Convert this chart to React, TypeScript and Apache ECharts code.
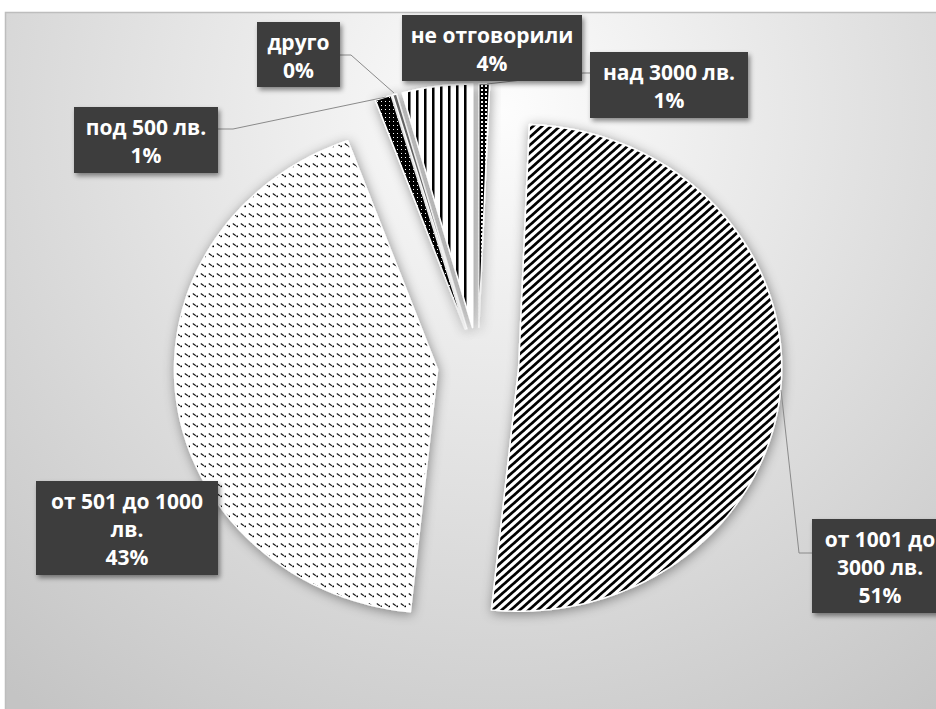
import React, { useEffect, useRef } from 'react';
import * as echarts from 'echarts';

// ---- data ----
const categories = ['над 3000 лв.', 'от 1001 до 3000 лв.', 'от 501 до 1000 лв.', 'под 500 лв.', 'друго', 'не отговорили'];
const shares = [0.65, 51.0, 42.8, 1.0, 0.25, 4.3];

// ---- layout ----
const CX = 478;
const CY = 365;
const RX = 263;
const RY = 243.5;
const EXPLODE = 0.155;

type Lay = { box: number[]; wrap: number; leader: number[][] | null };
const labelLayout: Lay[] = [
  { box: [590, 52, 158, 66], wrap: 20, leader: [[590, 73], [583, 73], [487, 84]] },
  { box: [812, 519, 136, 94], wrap: 10, leader: [[781, 390], [799, 553], [812, 553]] },
  { box: [36, 481, 182, 94], wrap: 14, leader: null },
  { box: [74, 107, 144, 66], wrap: 20, leader: [[218, 129], [233, 129], [386, 97]] },
  { box: [257, 22, 83, 65], wrap: 20, leader: [[340, 55], [351, 55], [394, 93]] },
  { box: [402, 15, 180, 66], wrap: 20, leader: null },
];

function wrapText(s: string, max: number): string {
  const words = s.split(' ');
  const lines: string[] = [];
  let cur = '';
  for (const w of words) {
    const cand = cur ? cur + ' ' + w : w;
    if (cand.length > max && cur) {
      lines.push(cur);
      cur = w;
    } else cur = cand;
  }
  if (cur) lines.push(cur);
  return lines.join('\n');
}

function tile(w: number, h: number, draw: (c: CanvasRenderingContext2D) => void) {
  const cv = document.createElement('canvas');
  cv.width = w;
  cv.height = h;
  const c = cv.getContext('2d') as CanvasRenderingContext2D;
  draw(c);
  return { image: cv.toDataURL(), repeat: 'repeat', imageWidth: w, imageHeight: h };
}

function makeFills() {
  const checker = tile(4, 4, (c) => {
    c.fillStyle = '#000';
    c.fillRect(0, 0, 4, 4);
    c.fillStyle = '#fff';
    c.fillRect(1, 1, 2, 2);
  });
  const DW = 9;
  const DH = 8;
  const diag = tile(DW, DH, (c) => {
    c.fillStyle = '#fff';
    c.fillRect(0, 0, DW, DH);
    c.strokeStyle = '#000';
    c.lineWidth = 2.8;
    for (let n = -1; n <= 3; n++) {
      c.beginPath();
      c.moveTo(DW * (n + 1), -DH);
      c.lineTo(DW * (n - 2), 2 * DH);
      c.stroke();
    }
  });
  const dashed = tile(8, 10, (c) => {
    c.fillStyle = '#fff';
    c.fillRect(0, 0, 8, 10);
    c.strokeStyle = '#1a1a1a';
    c.lineWidth = 1.2;
    c.beginPath();
    c.moveTo(0.8, 3.6);
    c.lineTo(3.8, 5.8);
    c.stroke();
    c.fillStyle = '#000';
    c.fillRect(4.4, 5.6, 1.6, 1.6);
  });
  const dotted = tile(4, 4, (c) => {
    c.fillStyle = '#000';
    c.fillRect(0, 0, 4, 4);
    c.fillStyle = '#fff';
    c.fillRect(1, 1, 1, 1);
  });
  const other = '#666';
  const vert = tile(8, 8, (c) => {
    c.fillStyle = '#fff';
    c.fillRect(0, 0, 8, 8);
    c.fillStyle = '#000';
    c.fillRect(0, 0, 2, 8);
    c.fillStyle = '#777';
    c.fillRect(2, 0, 1, 8);
  });
  return [checker, diag, dashed, dotted, other, vert];
}

export default function App() {
  const ref = useRef<HTMLDivElement>(null);
  useEffect(() => {
    if (!ref.current) return;
    const chart = echarts.init(ref.current, null, { renderer: 'svg' });
    const fills = makeFills();
    const total = shares.reduce((a, b) => a + b, 0);
    let acc = 0;
    const seriesData = shares.map((v) => {
      const s = acc / total;
      acc += v;
      return [v, s, acc / total];
    });

    const elements: any[] = [
      {
        type: 'rect',
        z: -10,
        silent: true,
        shape: { x: 5.5, y: 12.5, width: 940, height: 710 },
        style: {
          fill: {
            type: 'radial', x: 500, y: 110, r: 760, global: true,
            colorStops: [
              { offset: 0, color: '#fdfdfd' },
              { offset: 1, color: '#c4c4c4' },
            ],
          },
          stroke: '#bdbdbd',
          lineWidth: 1.5,
        },
      },
    ];
    categories.forEach((name, i) => {
      const L = labelLayout[i];
      const pct = Math.round((shares[i] / total) * 100);
      if (L.leader) {
        elements.push({
          type: 'polyline', z: 90, silent: true,
          shape: { points: L.leader },
          style: { stroke: '#8a8a8a', lineWidth: 1, fill: null },
        });
      }
      const [bx, by, bw, bh] = L.box;
      elements.push({
        type: 'rect', z: 100, silent: true,
        shape: { x: bx, y: by, width: bw, height: bh },
        style: {
          fill: '#3e3e3e',
          shadowBlur: 5, shadowColor: 'rgba(0,0,0,0.45)', shadowOffsetX: 2, shadowOffsetY: 3,
        },
      });
      elements.push({
        type: 'text', z: 101, silent: true,
        x: bx + bw / 2, y: by + bh / 2 + 1,
        style: {
          text: wrapText(name, L.wrap) + '\n' + pct + '%',
          fill: '#ffffff',
          font: 'bold 21px "Open Sans"',
          align: 'center', verticalAlign: 'middle',
          textAlign: 'center', textVerticalAlign: 'middle',
          lineHeight: 28,
        },
      });
    });

    chart.setOption({
      animation: false,
      graphic: { elements },
      series: [
        {
          type: 'custom',
          coordinateSystem: 'none',
          data: seriesData,
          renderItem: (params: any, api: any) => {
            const s = api.value(1) as number;
            const e = api.value(2) as number;
            const a0 = s * 2 * Math.PI;
            const a1 = e * 2 * Math.PI;
            const mid = (a0 + a1) / 2;
            const ox = CX + EXPLODE * RX * Math.sin(mid);
            const oy = CY - EXPLODE * RY * Math.cos(mid);
            const n = Math.max(2, Math.ceil((a1 - a0) / (Math.PI / 180)));
            const pts: number[][] = [[ox, oy]];
            for (let k = 0; k <= n; k++) {
              const a = a0 + ((a1 - a0) * k) / n;
              pts.push([ox + RX * Math.sin(a), oy - RY * Math.cos(a)]);
            }
            return {
              type: 'polygon',
              shape: { points: pts },
              style: {
                fill: fills[params.dataIndex],
                stroke: '#ffffff',
                lineWidth: 1.5,
                lineJoin: 'round',
                shadowBlur: 12,
                shadowColor: 'rgba(0,0,0,0.4)',
                shadowOffsetX: 1,
                shadowOffsetY: 2,
              },
            };
          },
        },
      ],
    });
    return () => chart.dispose();
  }, []);
  return <div ref={ref} style={{ position: 'absolute', left: 0, top: 0, width: 936, height: 709 }} />;
}
